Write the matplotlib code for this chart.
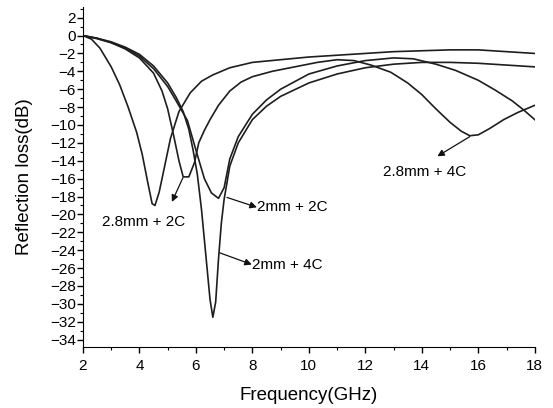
import numpy as np
import matplotlib.pyplot as plt
from matplotlib.ticker import MultipleLocator

plt.rcParams['font.family'] = ['Liberation Sans', 'DejaVu Sans']

#%% datos (frecuencia en GHz, perdida de reflexion en dB)
f_a = [2, 2.3, 2.6, 3.0, 3.3, 3.6, 3.9, 4.1, 4.3, 4.45, 4.55, 4.7, 4.9, 5.1, 5.4,
       5.8, 6.2, 6.6, 7.2, 8, 9, 10, 11, 12, 13, 14, 15, 16, 17, 18]
rl_a = [0, -0.4, -1.4, -3.5, -5.5, -8, -10.8, -13.3, -16.5, -18.8, -19.0, -17.5,
        -14.5, -11.5, -8.5, -6.4, -5.1, -4.4, -3.6, -3.0, -2.7, -2.4, -2.2, -2.0,
        -1.8, -1.7, -1.6, -1.6, -1.8, -2.0]

f_b = [2, 2.5, 3, 3.5, 4, 4.5, 4.8, 5.0, 5.2, 5.4, 5.55, 5.75, 5.95, 6.1, 6.3, 6.5,
       6.8, 7.2, 7.6, 8, 8.7, 9.5, 10.3, 11, 11.6, 12.2, 12.9, 13.5, 14, 14.5, 15,
       15.4, 15.7, 16, 16.4, 16.9, 17.4, 18]
rl_b = [0, -0.3, -0.8, -1.5, -2.5, -4.2, -6.2, -8.2, -11, -14, -15.8, -15.8, -14.2,
        -12, -10.6, -9.4, -7.8, -6.2, -5.2, -4.6, -4.0, -3.5, -3.0, -2.7, -2.8, -3.3,
        -4.1, -5.3, -6.6, -8.2, -9.7, -10.7, -11.2, -11.1, -10.4, -9.4, -8.6, -7.8]

f_c = [2, 2.5, 3, 3.5, 4, 4.5, 5, 5.3, 5.7, 6.0, 6.3, 6.55, 6.8, 7.0, 7.2, 7.5, 8,
       8.5, 9, 10, 11, 12, 13, 13.7, 14.5, 15.2, 16, 16.6, 17.2, 17.6, 18]
rl_c = [0, -0.35, -0.8, -1.4, -2.3, -3.7, -5.7, -7.3, -9.5, -12.8, -16, -17.6, -18.2,
        -17, -13.8, -11.3, -8.8, -7.2, -6.0, -4.3, -3.4, -2.8, -2.5, -2.6, -3.2,
        -3.9, -5.0, -6.1, -7.3, -8.3, -9.4]

f_d = [2, 2.5, 3, 3.5, 4, 4.5, 5, 5.3, 5.55, 5.75, 5.9, 6.05, 6.2, 6.35, 6.5, 6.6,
       6.7, 6.8, 6.9, 7.0, 7.2, 7.5, 8, 8.5, 9, 10, 11, 12, 13, 14, 15, 16, 17, 18]
rl_d = [0, -0.3, -0.7, -1.3, -2.1, -3.4, -5.3, -6.9, -8.5, -10.5, -12.8, -15.5,
        -19.5, -24.5, -29.5, -31.5, -29.8, -25, -21, -18.3, -14.6, -12.0, -9.4,
        -7.9, -6.8, -5.3, -4.3, -3.6, -3.2, -3.0, -3.0, -3.1, -3.3, -3.5]

# etiquetas: texto, punto en la curva, punta de flecha
etiquetas = ['2.8mm + 2C', '2mm + 2C', '2mm + 4C', '2.8mm + 4C']
cola = [(5.54, -15.9), (7.10, -18.1), (6.85, -24.3), (15.7, -11.3)]
punta = [(5.15, -18.6), (8.16, -19.2), (7.98, -25.6), (14.55, -13.5)]
pos_txt = [(4.15, -20.9), (8.18, -19.2), (8.0, -25.6), (14.1, -15.2)]
alin = ['center', 'left', 'left', 'center']

#%% grafico
fig = plt.figure(figsize=(5.53, 4.08), dpi=100)
ax = fig.add_axes([0.150, 0.150, 0.817, 0.833])

for ff, rr in [(f_a, rl_a), (f_b, rl_b), (f_c, rl_c), (f_d, rl_d)]:
    ax.plot(ff, rr, color='#1e1e1e', lw=1.2)

for txt, c, p, t, ha in zip(etiquetas, cola, punta, pos_txt, alin):
    ax.annotate('', xy=p, xytext=c,
                arrowprops=dict(arrowstyle='-|>', color='#111111', lw=0.9,
                                mutation_scale=10, shrinkA=0, shrinkB=0))
    ax.text(t[0], t[1], txt, fontsize=11, ha=ha, va='center')

ax.set_xlim(2, 18)
ax.set_ylim(-34.8, 3.2)
ax.xaxis.set_major_locator(MultipleLocator(2))
ax.xaxis.set_minor_locator(MultipleLocator(1))
ax.yaxis.set_major_locator(MultipleLocator(2))
ax.yaxis.set_minor_locator(MultipleLocator(1))
ax.set_yticks(np.arange(-34, 3, 2))
ax.tick_params(which='major', direction='out', length=4, width=1, labelsize=11, pad=1)
ax.tick_params(axis='x', which='major', pad=5)
ax.tick_params(which='minor', direction='out', length=2, width=0.8)
ax.spines['top'].set_visible(False)
ax.spines['right'].set_visible(False)
ax.set_xlabel('Frequency(GHz)', fontsize=13.5, labelpad=10)
ax.set_ylabel('Reflection loss(dB)', fontsize=13.5, labelpad=12)

plt.savefig('out.png', dpi=100)
